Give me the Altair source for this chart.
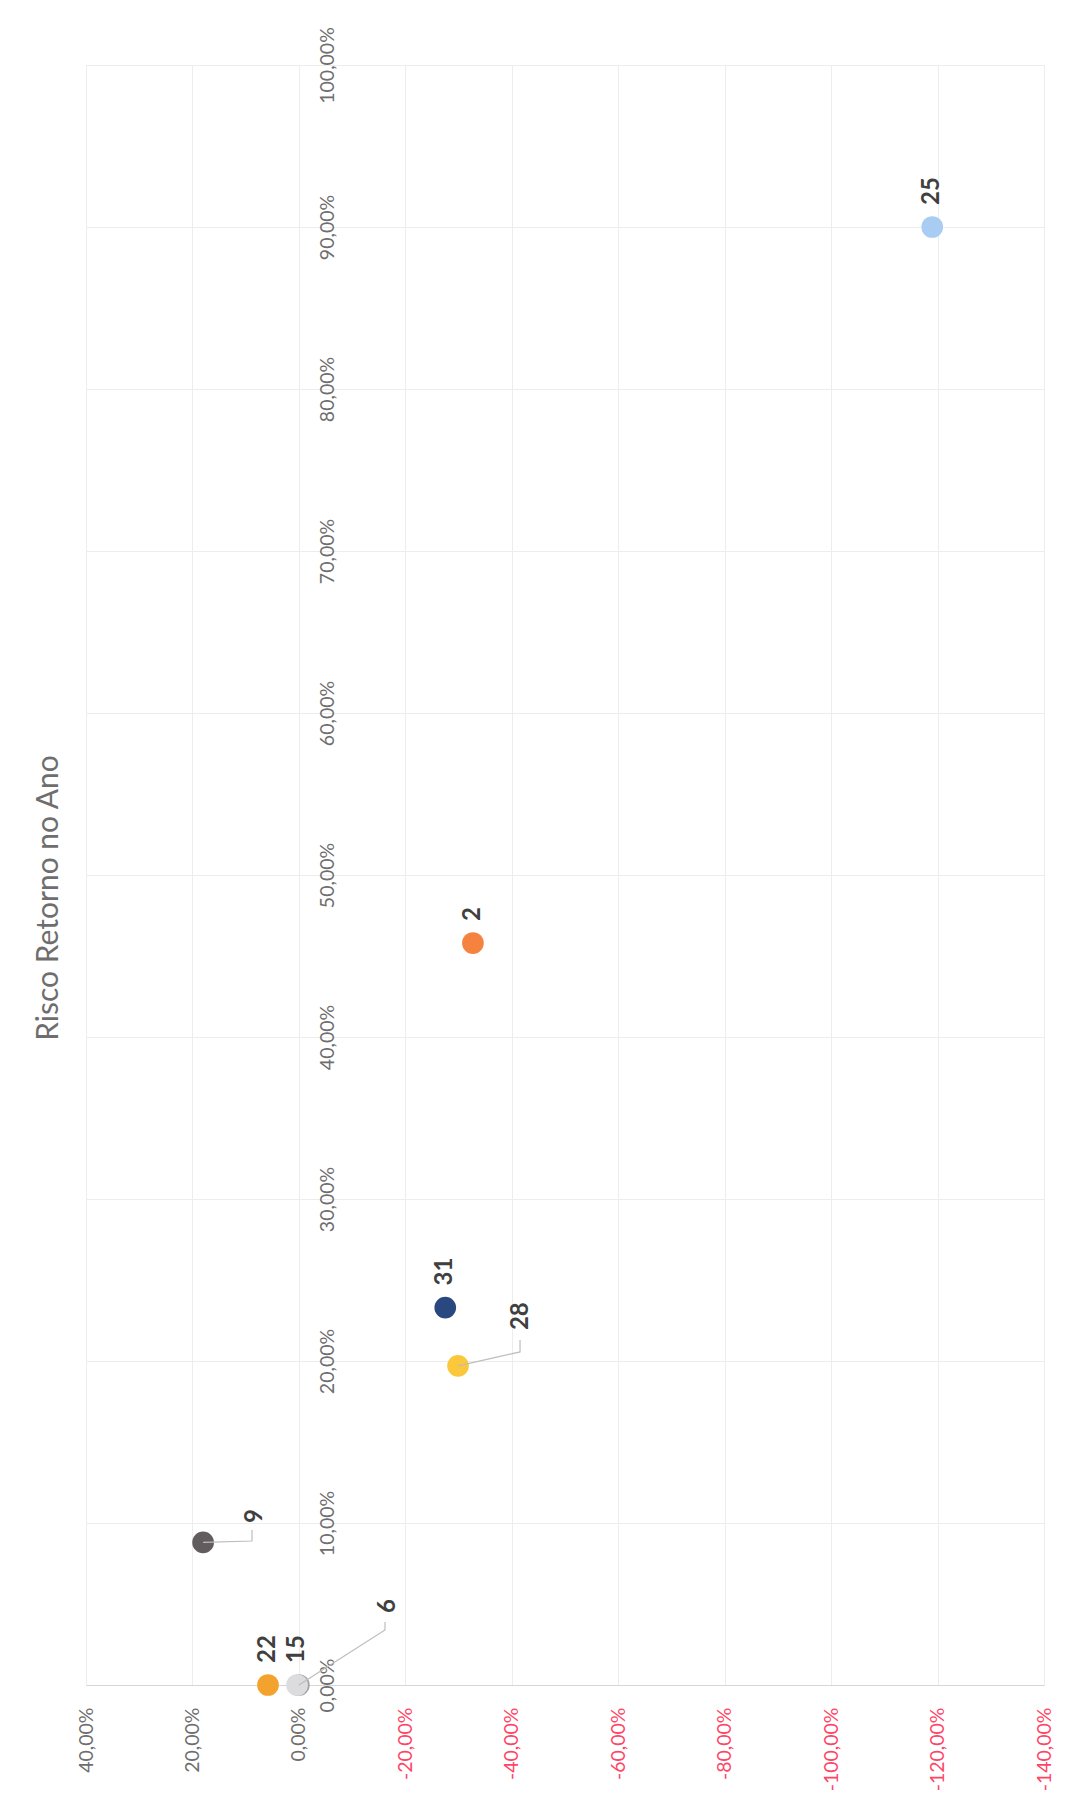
import altair as alt
import pandas as pd

# ---- data ----
ids = ["6", "25", "2", "31", "28", "9", "22", "15"]
retorno = [0.0, -1.19, -0.327, -0.275, -0.299, 0.180, 0.058, 0.0035]   # original y (Retorno)
risco = [0.0, 0.900, 0.458, 0.233, 0.197, 0.088, 0.0, 0.0]            # original x (Risco)
cores = ["#A5A5A5", "#A8CCF2", "#F5823F", "#2A4880", "#FAC83A", "#635C5F", "#F4A22E", "#DCDCDF"]

# labels that were dragged away and have leader lines
leader_ids = ["28", "9", "6"]
label_retorno = [-0.4174, 0.0825, -0.1675]
label_risco = [0.2191, 0.1000, 0.0444]
elbow_retorno = [-0.4155, 0.0881, -0.1618]
elbow_risco = [0.2056, 0.0889, 0.0340]
end_risco = [0.2130, 0.0957, 0.0389]

x_ticks = [0.4, 0.2, 0.0, -0.2, -0.4, -0.6, -0.8, -1.0, -1.2, -1.4]
y_ticks = [0.0, 0.1, 0.2, 0.3, 0.4, 0.5, 0.6, 0.7, 0.8, 0.9, 1.0]

W, H = 958, 1620
FONT = "Lato"

pts = pd.DataFrame({"id": ids, "retorno": retorno, "risco": risco})
plain = pts[~pts["id"].isin(leader_ids)]
lab = pd.DataFrame({"id": leader_ids, "retorno": label_retorno, "risco": label_risco})

rows = []
for i, lid in enumerate(leader_ids):
    p = pts[pts["id"] == lid].iloc[0]
    rows.append({"id": lid, "seq": 0, "retorno": p["retorno"], "risco": p["risco"]})
    rows.append({"id": lid, "seq": 1, "retorno": elbow_retorno[i], "risco": elbow_risco[i]})
    rows.append({"id": lid, "seq": 2, "retorno": elbow_retorno[i], "risco": end_risco[i]})
lead = pd.DataFrame(rows)

fmt = "(datum.value < 0 ? '-' : '') + replace(format(abs(datum.value), '.2%'), '.', ',')"

x_enc = alt.X(
    "retorno:Q",
    scale=alt.Scale(domain=[-1.4, 0.4], reverse=True, nice=False, zero=False),
    axis=alt.Axis(
        orient="bottom", values=x_ticks, labelExpr=fmt, title=None,
        labelAngle=270, labelAlign="right", labelBaseline="middle",
        labelPadding=22, ticks=False, domain=False,
        labelFont=FONT, labelFontSize=19.5,
        labelColor={"condition": {"test": "datum.value < 0", "value": "#FF4466"}, "value": "#6E6E6E"},
        grid=True, gridColor="#EDEDED", gridWidth=1,
    ),
)
y_enc = alt.Y(
    "risco:Q",
    scale=alt.Scale(domain=[0, 1], nice=False),
    axis=alt.Axis(
        orient="right", offset=-(W - W * 0.4 / 1.8), values=y_ticks, labelExpr=fmt, title=None,
        labelAngle=270, labelAlign="center", labelBaseline="top",
        labelPadding=20, ticks=False, domain=False,
        labelFont=FONT, labelFontSize=19.5, labelColor="#6E6E6E",
        grid=True,
        gridColor={"condition": {"test": "datum.value === 0", "value": "#D6D6D6"}, "value": "#EDEDED"},
        gridWidth=1,
    ),
)

color = alt.Color("id:N", scale=alt.Scale(domain=ids, range=cores), legend=None)

points = alt.Chart(pts).mark_circle(size=470, opacity=1).encode(
    x=x_enc, y=y_enc, color=color, order=alt.Order("o:Q")
).transform_window(o="row_number()")

text_style = dict(angle=270, align="left", baseline="middle", font=FONT,
                  fontSize=24, fontWeight="bold", color="#404040")

labels_plain = alt.Chart(plain).mark_text(dx=22, **text_style).encode(
    x="retorno:Q", y="risco:Q", text="id:N"
)
labels_lead = alt.Chart(lab).mark_text(**text_style).encode(
    x="retorno:Q", y="risco:Q", text="id:N"
)
leaders = alt.Chart(lead).mark_line(color="#BDBDBD", strokeWidth=1.2).encode(
    x="retorno:Q", y="risco:Q", detail="id:N", order="seq:Q"
)

chart = alt.layer(points, leaders, labels_plain, labels_lead).properties(
    width=W, height=H,
    title=alt.TitleParams(
        "Risco Retorno no Ano", orient="left", anchor="middle",
        font=FONT, fontSize=30, fontWeight="normal", color="#6E6E6E",
        offset=12, dx=-23,
    ),
    autosize=alt.AutoSizeParams(type="none"),
    padding={"left": 78, "top": 57, "right": 38, "bottom": 109},
).configure_view(stroke=None).configure(background="white")

chart.save("out.html", embed_options={"renderer": "svg", "actions": False})
